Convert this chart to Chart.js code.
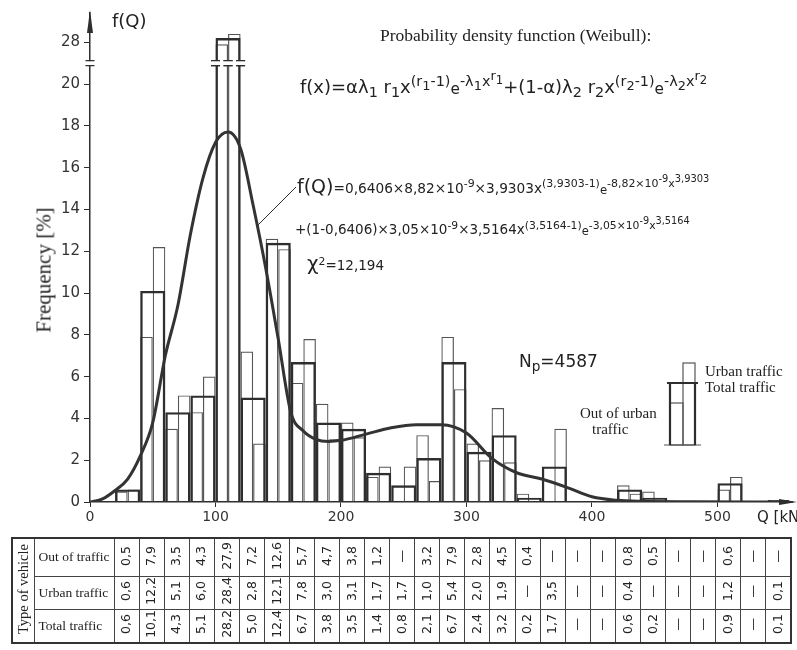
<!DOCTYPE html>
<html>
<head>
<meta charset="utf-8">
<script src="https://cdn.jsdelivr.net/npm/chart.js@4.4.1/dist/chart.umd.min.js"></script>
<style>
  body { margin: 0; background: #fff; }
  #sheet { position: relative; width: 797px; height: 650px; overflow: hidden; background: #fff; color: #222; }
  #weibull-chart { position: absolute; left: 0; top: 0; }
  .note { position: absolute; white-space: nowrap; line-height: 1; }
  .serif { font-family: "Liberation Serif", "DejaVu Serif", serif; }
  .sans { font-family: "DejaVu Sans", sans-serif; }
  .note sup, .note sub { font-size: 0.8em; line-height: 0; }
  .note sup sup, .note sup sub { font-size: 0.9em; }
  .note .ee { font-size: 0.85em; vertical-align: -0.1em; }
  #vehicle-table { position: absolute; left: 11px; top: 537px; width: 779px; height: 105px;
    border-collapse: collapse; table-layout: fixed; border: 2px solid #333; color: #222; }
  #vehicle-table td { border: 1px solid #444; padding: 0; text-align: center; vertical-align: middle; }
  #vehicle-table td.head { font: 13.5px "Liberation Serif", serif; text-align: left; padding-left: 4px; white-space: nowrap; }
  #vehicle-table .v { display: inline-block; writing-mode: vertical-rl; transform: rotate(180deg); line-height: 1; }
  #vehicle-table td.num { font: 12.5px "DejaVu Sans", sans-serif; }
  #vehicle-table td.type { font: 14.5px "Liberation Serif", serif; }
</style>
</head>
<body>
<div id="sheet">
  <canvas id="weibull-chart" width="797" height="650"></canvas>

  <div class="note sans" style="left:112px;top:12px;font-size:18px">f(Q)</div>
  <div class="note serif" style="left:44px;top:270px;font-size:21px;transform:translate(-50%,-50%) rotate(-90deg)">Frequency [%]</div>
  <div class="note sans" style="left:757px;top:510px;font-size:15px">Q [kN]</div>

  <div class="note serif" style="left:380px;top:27px;font-size:17.5px">Probability density function (Weibull):</div>
  <div class="note sans" style="left:300px;top:76px;font-size:18px">f(x)=αλ<sub>1</sub> r<sub>1</sub>x<sup>(r<sub>1</sub>-1)</sup><span class="ee">e</span><sup>-λ<sub>1</sub>x<sup>r<sub>1</sub></sup></sup>+(1-α)λ<sub>2</sub> r<sub>2</sub>x<sup>(r<sub>2</sub>-1)</sup><span class="ee">e</span><sup>-λ<sub>2</sub>x<sup>r<sub>2</sub></sup></sup></div>
  <div class="note sans" style="left:297px;top:177px;font-size:13.7px"><span style="font-size:19px">f(Q)</span>=0,6406×8,82×10<sup>-9</sup>×3,9303x<sup>(3,9303-1)</sup><span class="ee">e</span><sup>-8,82×10<sup>-9</sup>x<sup>3,9303</sup></sup></div>
  <div class="note sans" style="left:295px;top:221px;font-size:13.5px">+(1-0,6406)×3,05×10<sup>-9</sup>×3,5164x<sup>(3,5164-1)</sup><span class="ee">e</span><sup>-3,05×10<sup>-9</sup>x<sup>3,5164</sup></sup></div>
  <div class="note sans" style="left:307px;top:253px;font-size:13.5px"><span style="font-size:20px">χ</span><sup>2</sup>=12,194</div>

  <div class="note sans" style="left:519px;top:353px;font-size:17px">N<sub>p</sub>=4587</div>
  <div class="note serif" style="left:705px;top:364px;font-size:15px">Urban traffic</div>
  <div class="note serif" style="left:705px;top:380px;font-size:15px">Total traffic</div>
  <div class="note serif" style="left:580px;top:406px;font-size:15px">Out of urban</div>
  <div class="note serif" style="left:592px;top:422px;font-size:15px">traffic</div>

  <table id="vehicle-table"></table>
</div>

<script>
// 20 kN load classes, lower bound of each class
const classStart = [20, 40, 60, 80, 100, 120, 140, 160, 180, 200, 220, 240, 260, 280,
  300, 320, 340, 360, 380, 400, 420, 440, 460, 480, 500, 520, 540];

// frequencies in %, null where the class is empty
const outOfUrban = [0.5, 7.9, 3.5, 4.3, 27.9, 7.2, 12.6, 5.7, 4.7, 3.8, 1.2, null, 3.2, 7.9,
  2.8, 4.5, 0.4, null, null, null, 0.8, 0.5, null, null, 0.6, null, null];
const urbanTraffic = [0.6, 12.2, 5.1, 6.0, 28.4, 2.8, 12.1, 7.8, 3.0, 3.1, 1.7, 1.7, 1.0, 5.4,
  2.0, 1.9, null, 3.5, null, null, 0.4, null, null, null, 1.2, null, 0.1];
const totalTraffic = [0.6, 10.1, 4.3, 5.1, 28.2, 5.0, 12.4, 6.7, 3.8, 3.5, 1.4, 0.8, 2.1, 6.7,
  2.4, 3.2, 0.2, 1.7, null, null, 0.6, 0.2, null, null, 0.9, null, 0.1];

// fitted Weibull mixture f(Q)
const curveQ = [0, 10, 20, 30, 40, 50, 60, 70, 80, 90, 100, 110, 120, 130, 140, 150, 160, 170,
  180, 190, 200, 220, 240, 260, 280, 300, 320, 340, 360, 380, 400, 420, 440, 480, 557];
const curveF = [0, 0.15, 0.55, 1.1, 2.2, 3.8, 7.0, 9.4, 12.8, 15.5, 17.2, 17.7, 16.9, 14.2, 11.2,
  7.8, 4.3, 3.4, 3.0, 2.9, 2.95, 3.25, 3.55, 3.7, 3.7, 3.3, 2.1, 1.4, 1.1, 0.7, 0.25, 0.08, 0.03, 0.01, 0];

const yTickLabels = [0, 2, 4, 6, 8, 10, 12, 14, 16, 18, 20, 28];
const CLASS_WIDTH = 20;

// y axis is broken between 20 and 26: everything above 20 moves down by 6
const BREAK_AT = 20, BREAK_GAP = 6;
const yv = v => (v == null ? null : (v > BREAK_AT ? v - BREAK_GAP : v));

const fmt = v => (v == null ? '—' : v.toFixed(1).replace('.', ','));

// legend sketch on the right (pixel layout)
const LEG = { left: 670, mid: 683, right: 695, base: 445, total: 383, out: 403, urban: 363 };
const INK = '#2e2e2e';

const half = CLASS_WIDTH / 4;
const outPts = classStart.map((s, i) => ({ x: s + half, y: yv(outOfUrban[i]) }));
const urbanPts = classStart.map((s, i) => ({ x: s + 3 * half, y: yv(urbanTraffic[i]) }));
const totalPts = classStart.map((s, i) => ({ x: s + 2 * half, y: yv(totalTraffic[i]) }));
const curvePts = curveQ.map((q, i) => ({ x: q, y: yv(curveF[i]) }));

// bar centres sit 5 kN apart, so the ruler step is a quarter class:
// barPercentage 4 = full class, 2 = half class
const thinBar = {
  type: 'bar', grouped: false, categoryPercentage: 1, barPercentage: 2,
  backgroundColor: 'rgba(0,0,0,0)', borderColor: '#555', borderWidth: 1.2,
  borderSkipped: 'start', order: 2
};

function breakMark(ctx, cx, cy) {
  ctx.fillStyle = '#fff';
  ctx.fillRect(cx - 4, cy - 2, 8, 4);
  ctx.strokeStyle = INK;
  ctx.lineWidth = 1.3;
  ctx.beginPath();
  ctx.moveTo(cx - 4.5, cy - 2.5); ctx.lineTo(cx + 4.5, cy - 2.5);
  ctx.moveTo(cx - 4.5, cy + 2.5); ctx.lineTo(cx + 4.5, cy + 2.5);
  ctx.stroke();
}

const sketchPlugin = {
  id: 'sketch',
  afterDatasetsDraw(chart) {
    const { ctx, scales: { x, y } } = chart;
    const yb = y.getPixelForValue(BREAK_AT + 1);
    ctx.save();
    // break marks on every bar edge that runs past the break
    chart.data.datasets.forEach((ds, di) => {
      if (ds.type !== 'bar') return;
      chart.getDatasetMeta(di).data.forEach((el, i) => {
        const raw = ds.data[i].y;
        if (raw == null || raw <= BREAK_AT) return;
        const { x: cx, width } = el.getProps(['x', 'width'], true);
        breakMark(ctx, cx - width / 2, yb);
        breakMark(ctx, cx + width / 2, yb);
      });
    });
    breakMark(ctx, x.left, yb);
    ctx.restore();
  },
  afterDraw(chart) {
    const { ctx, chartArea: a, scales: { x, y } } = chart;
    ctx.save();
    ctx.fillStyle = INK;
    // axis arrows
    ctx.beginPath();
    ctx.moveTo(a.left, a.top - 3); ctx.lineTo(a.left - 3, a.top + 20); ctx.lineTo(a.left + 3, a.top + 20);
    ctx.fill();
    ctx.beginPath();
    ctx.moveTo(a.right + 8, a.bottom); ctx.lineTo(a.right - 10, a.bottom - 3); ctx.lineTo(a.right - 10, a.bottom + 3);
    ctx.fill();
    ctx.strokeStyle = INK;
    ctx.lineWidth = 1.5;
    ctx.beginPath();
    ctx.moveTo(a.right, a.bottom); ctx.lineTo(a.right + 4, a.bottom);
    ctx.stroke();

    // leader from the curve to the f(Q) formula
    ctx.lineWidth = 1;
    ctx.beginPath();
    ctx.moveTo(x.getPixelForValue(133), y.getPixelForValue(13.2));
    ctx.lineTo(296, 187);
    ctx.stroke();

    // legend sketch: out of urban | urban, total across both
    ctx.strokeStyle = '#555';
    ctx.lineWidth = 1.2;
    ctx.strokeRect(LEG.left, LEG.out, LEG.mid - LEG.left, LEG.base - LEG.out);
    ctx.strokeRect(LEG.mid, LEG.urban, LEG.right - LEG.mid, LEG.base - LEG.urban);
    ctx.beginPath();
    ctx.moveTo(LEG.left - 6, LEG.base); ctx.lineTo(LEG.right + 6, LEG.base);
    ctx.stroke();
    ctx.strokeStyle = INK;
    ctx.lineWidth = 2.2;
    ctx.beginPath();
    ctx.moveTo(LEG.left, LEG.base); ctx.lineTo(LEG.left, LEG.total);
    ctx.lineTo(LEG.right, LEG.total); ctx.lineTo(LEG.right, LEG.base);
    ctx.moveTo(LEG.left - 3, LEG.total); ctx.lineTo(LEG.left, LEG.total);
    ctx.moveTo(LEG.right, LEG.total); ctx.lineTo(LEG.right + 3, LEG.total);
    ctx.stroke();
    ctx.restore();
  }
};

new Chart(document.getElementById('weibull-chart'), {
  type: 'bar',
  data: {
    datasets: [
      {
        type: 'line', data: curvePts, borderColor: '#333', borderWidth: 3,
        pointRadius: 0, cubicInterpolationMode: 'monotone', fill: false, order: 0
      },
      {
        type: 'bar', data: totalPts, grouped: false, categoryPercentage: 1, barPercentage: 4,
        backgroundColor: 'rgba(0,0,0,0)', borderColor: INK, borderWidth: 2.4,
        borderSkipped: 'start', order: 1
      },
      Object.assign({ data: outPts }, thinBar),
      Object.assign({ data: urbanPts }, thinBar)
    ]
  },
  options: {
    responsive: false,
    animation: false,
    layout: { padding: { left: 0, right: 8, top: 11, bottom: 118 } },
    plugins: { legend: { display: false }, tooltip: { enabled: false } },
    scales: {
      x: {
        type: 'linear', min: 0, max: 557, offset: false,
        afterFit: s => { s.height = 30; },
        ticks: { stepSize: 100, includeBounds: false, padding: 2, color: '#333',
          font: { family: 'DejaVu Sans', size: 14 } },
        grid: { drawOnChartArea: false, tickLength: 5, color: INK, offset: false },
        border: { color: INK, width: 1.5 }
      },
      y: {
        type: 'linear', min: 0, max: 23.4,
        afterFit: s => { s.width = 90; },
        afterBuildTicks: s => { s.ticks = yTickLabels.map(v => ({ value: yv(v) })); },
        ticks: { padding: 4, color: '#333', font: { family: 'DejaVu Sans', size: 15 },
          callback: (v, i) => yTickLabels[i] },
        grid: { drawOnChartArea: false, tickLength: 6, color: INK },
        border: { color: INK, width: 1.5 }
      }
    }
  },
  plugins: [sketchPlugin]
});

// value table under the axis
(function buildTable() {
  const table = document.getElementById('vehicle-table');
  const cg = document.createElement('colgroup');
  [22, 80].concat(classStart.map(() => 677 / classStart.length)).forEach(w => {
    const c = document.createElement('col');
    c.style.width = w + 'px';
    cg.appendChild(c);
  });
  table.appendChild(cg);
  const rows = [
    ['Out of traffic', outOfUrban, 38],
    ['Urban traffic', urbanTraffic, 33],
    ['Total traffic', totalTraffic, 34]
  ];
  rows.forEach(([label, values, h], r) => {
    const tr = document.createElement('tr');
    tr.style.height = h + 'px';
    if (r === 0) {
      const td = document.createElement('td');
      td.rowSpan = 3;
      td.className = 'type';
      td.innerHTML = '<span class="v">Type of vehicle</span>';
      tr.appendChild(td);
    }
    const head = document.createElement('td');
    head.className = 'head';
    head.textContent = label;
    tr.appendChild(head);
    values.forEach(v => {
      const td = document.createElement('td');
      td.className = 'num';
      td.innerHTML = '<span class="v">' + fmt(v) + '</span>';
      tr.appendChild(td);
    });
    table.appendChild(tr);
  });
})();
</script>
</body>
</html>
